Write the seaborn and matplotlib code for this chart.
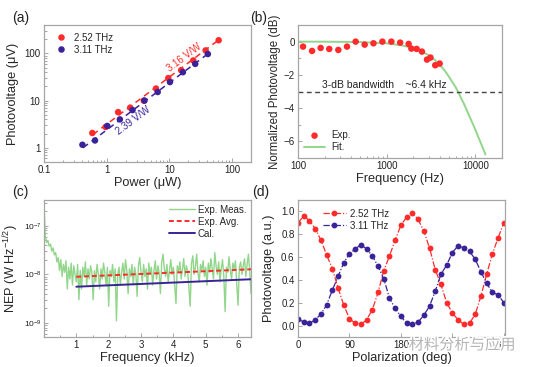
import numpy as np
import pandas as pd
import matplotlib
matplotlib.use("Agg")
import matplotlib.pyplot as plt
import matplotlib.ticker as mticker
import matplotlib.patheffects as pe
import seaborn as sns

# ---------------- data ----------------
# (a) photovoltage vs power
pa_red_x = [0.59, 0.96, 1.52, 2.37, 3.9, 6.1, 9.6, 15.4, 24, 37.8, 61]
pa_red_y = [2.06, 2.76, 5.7, 7.1, 10, 18, 30, 44, 71, 116, 190]
pa_blue_x = [0.41, 0.65, 1.02, 1.62, 2.58, 4.0, 6.5, 10.2, 16.4, 25.8, 41]
pa_blue_y = [1.16, 1.43, 2.9, 4.0, 6.3, 10, 15.2, 24.7, 40, 60, 97]
fit_red_slope = 3.16
fit_blue_slope = 2.39
fit_red_x = [0.6, 60]
fit_blue_x = [0.42, 42]

# (b) frequency response
pb_f = [114, 144, 180, 225, 285, 357, 447, 565, 710, 895, 1130, 1420, 1770,
        1900, 2180, 2500, 2850, 3120, 3530, 3960]
pb_db = [-0.3, -0.56, -0.38, -0.44, -0.5, -0.3, 0.0, -0.18, -0.1, 0.0, 0.0,
         -0.06, -0.14, -0.42, -0.44, -0.6, -1.08, -0.96, -1.42, -1.32]
fit_f = [100, 200, 500, 1000, 1500, 2000, 2500, 3000, 3500, 4000, 4500, 5000,
         5500, 6000, 6500, 7000, 7500, 8000, 9000, 10000, 11000, 12000, 13000]
fit_db = [-0.001, -0.004, -0.026, -0.10, -0.23, -0.39, -0.59, -0.83, -1.10,
          -1.41, -1.73, -2.08, -2.43, -2.74, -3.10, -3.46, -3.78, -4.12,
          -4.74, -5.29, -5.84, -6.32, -6.79]

# (c) NEP (units of 1e-9 W Hz^-1/2), x step 0.04 kHz from 0 to 6.4
nep_meas = [300, 60, 45, 50, 38, 42, 30, 35, 25, 28, 18, 22, 12, 20, 9, 16, 11,
            19, 5, 14, 8, 17, 6, 15, 10, 7, 16, 3, 12, 5, 14, 9, 18, 6, 13, 8,
            15, 11, 3, 12, 7, 16, 10, 5, 13, 8, 17, 11, 6, 14, 2.2, 12, 9, 16,
            7, 13, 1.1, 10, 14, 6, 11, 17, 8, 20, 12, 4, 13, 9, 16, 6, 14, 10,
            3.5, 15, 22, 11, 7, 16, 9, 13, 5, 17, 10, 14, 6, 12, 19, 8, 15, 11,
            4, 18, 26, 13, 9, 16, 7, 12, 20, 10, 14, 6, 2.5, 15, 11, 18, 8, 13,
            21, 9, 15, 12, 5, 2.2, 17, 24, 10, 14, 26, 11, 7, 16, 12, 19, 9, 14,
            6, 17, 11, 21, 13, 8, 28, 15, 10, 18, 7, 13, 20, 9, 1.7, 14, 11, 23,
            12, 8, 17, 13, 19, 6, 2.3, 14, 18, 10, 15, 21, 9, 16, 26, 12, 4]
nep_x_step = 0.04
avg_x = [1.0, 6.4]
avg_y = [8.9, 12.7]
cal_x = [1.0, 6.4]
cal_y = [5.55, 7.9]

# (d) polarization dependence
pol_deg = list(range(0, 361, 10))
pol_red = [0.90, 0.96, 0.92, 0.85, 0.75, 0.62, 0.50, 0.33, 0.18, 0.06, 0.02,
           0.01, 0.05, 0.14, 0.29, 0.48, 0.61, 0.75, 0.88, 0.95, 0.99, 0.93,
           0.83, 0.68, 0.49, 0.36, 0.20, 0.11, 0.05, 0.01, 0.02, 0.10, 0.26,
           0.45, 0.63, 0.77, 0.90]
pol_blue = [0.06, 0.03, 0.02, 0.05, 0.10, 0.18, 0.31, 0.43, 0.55, 0.63, 0.67,
            0.71, 0.67, 0.61, 0.52, 0.41, 0.24, 0.15, 0.08, 0.02, 0.01, 0.03,
            0.09, 0.17, 0.30, 0.45, 0.53, 0.64, 0.70, 0.68, 0.65, 0.58, 0.47,
            0.37, 0.29, 0.27, 0.20]

# ---------------- style ----------------
sns.set_style("ticks")
plt.rcParams['font.family'] = ['Liberation Sans', 'DejaVu Sans']
plt.rcParams['mathtext.fontset'] = 'custom'
plt.rcParams['mathtext.rm'] = 'Liberation Sans'
plt.rcParams['mathtext.it'] = 'Liberation Sans:italic'
plt.rcParams['mathtext.default'] = 'regular'
RED = "#ff2b2b"
BLUE = "#3a2299"
GREEN = "#92d68c"
FRAME = "#a6a6a6"
TXT = "#222222"
LAB = 9.2
TICK = 7.0

W, H = 535, 367
fig = plt.figure(figsize=(W / 100, H / 100), dpi=100)


def add_ax(l, r, t, b):
    return fig.add_axes([l / W, (H - b) / H, (r - l) / W, (b - t) / H])


def style(ax):
    for s in ax.spines.values():
        s.set_color(FRAME)
        s.set_linewidth(0.9)
    ax.tick_params(which='both', direction='in', color=FRAME, labelsize=TICK,
                   labelcolor=TXT, width=0.7, pad=2.5)
    ax.tick_params(which='major', length=3)
    ax.tick_params(which='minor', length=1.8)


axA = add_ax(44, 251, 25, 162)
axB = add_ax(298, 502, 25, 158)
axC = add_ax(44, 251, 200, 337)
axD = add_ax(298, 505, 200, 337)

# ---------------- (a) ----------------
dfa = pd.DataFrame({
    "x": pa_red_x + pa_blue_x,
    "y": pa_red_y + pa_blue_y,
    "s": ["2.52 THz"] * len(pa_red_x) + ["3.11 THz"] * len(pa_blue_x)})
axA.set_xscale('log')
axA.set_yscale('log')
sns.scatterplot(data=dfa, x="x", y="y", hue="s", palette=[RED, BLUE], s=22,
                edgecolor='none', ax=axA, zorder=3)
fr_x = np.array(fit_red_x)
fb_x = np.array(fit_blue_x)
axA.plot(fr_x, fit_red_slope * fr_x, ls=(0, (4, 3)), color=RED, lw=1.1)
axA.plot(fb_x, fit_blue_slope * fb_x, ls=(0, (4, 3)), color=BLUE, lw=1.1)
axA.set_xlim(0.1, 200)
axA.set_ylim(0.5, 400)
axA.xaxis.set_major_formatter(mticker.FuncFormatter(lambda v, p: f"{v:g}"))
axA.yaxis.set_major_formatter(mticker.FuncFormatter(lambda v, p: f"{v:g}"))
axA.text(17, 80, "3.16 V/W", color=RED, fontsize=TICK, rotation=37,
         ha='center', va='center')
axA.text(2.6, 3.7, "2.39 V/W", color=BLUE, fontsize=TICK, rotation=37,
         ha='center', va='center')
axA.set_xlabel("Power (\u03bcW)", fontsize=LAB, labelpad=1)
axA.set_ylabel("Photovoltage (\u03bcV)", fontsize=LAB, labelpad=4)
axA.legend(loc='upper left', frameon=False, fontsize=TICK, handletextpad=0.3,
           borderaxespad=0.4, labelspacing=0.2, markerscale=1.0)
style(axA)

# ---------------- (b) ----------------
axB.set_xscale('log')
sns.scatterplot(x=pb_f, y=pb_db, color=RED, s=22, edgecolor='none', ax=axB,
                zorder=3, label="Exp.")
sns.lineplot(x=fit_f, y=fit_db, color=GREEN, lw=1.4, ax=axB, label="Fit.",
             zorder=2)
axB.axhline(-3, color="#444444", ls=(0, (3.5, 2.5)), lw=1.0)
axB.text(187, -2.62, "3-dB bandwidth    ~6.4 kHz", fontsize=7.5, color=TXT,
         ha='left', va='center')
axB.set_xlim(100, 20000)
axB.set_ylim(-7, 1)
axB.set_yticks([0, -2, -4, -6])
axB.yaxis.set_minor_locator(mticker.MultipleLocator(1))
axB.xaxis.set_major_formatter(mticker.FuncFormatter(lambda v, p: f"{v:g}"))
axB.set_xlabel("Frequency (Hz)", fontsize=LAB, labelpad=1)
axB.set_ylabel("Normalized Photovoltage (dB)", fontsize=8.3, labelpad=1.5)
axB.legend(loc='lower left', frameon=False, fontsize=TICK, handletextpad=0.6,
           borderaxespad=0.2, labelspacing=0.2, handlelength=2.2)
style(axB)

# ---------------- (c) ----------------
nep_x = np.arange(len(nep_meas)) * nep_x_step
axC.set_yscale('log')
sns.lineplot(x=nep_x, y=np.array(nep_meas) * 1e-9, color=GREEN, lw=1.0,
             ax=axC, label="Exp. Meas.")
sns.lineplot(x=avg_x, y=np.array(avg_y) * 1e-9, color=RED, lw=1.4,
             ls=(0, (2.5, 1.5)), ax=axC, label="Exp. Avg.")
sns.lineplot(x=cal_x, y=np.array(cal_y) * 1e-9, color=BLUE, lw=1.4,
             ax=axC, label="Cal.")
axC.set_xlim(0, 6.4)
axC.set_ylim(5.1e-10, 3.4e-7)
axC.set_xticks([1, 2, 3, 4, 5, 6])
axC.xaxis.set_minor_locator(mticker.MultipleLocator(0.5))
axC.set_xlabel("Frequency (kHz)", fontsize=LAB, labelpad=1)
axC.set_ylabel("NEP (W Hz$^{-1/2}$)", fontsize=LAB, labelpad=2)
axC.legend(loc='upper right', frameon=False, fontsize=TICK, handletextpad=0.3,
           borderaxespad=0.1, labelspacing=0.2, handlelength=2.6)
style(axC)
axC.tick_params(axis='y', which='major', labelsize=6.0, pad=1.5)

# ---------------- (d) ----------------
dfd = pd.DataFrame({
    "deg": pol_deg + pol_deg,
    "v": pol_red + pol_blue,
    "s": ["2.52 THz"] * len(pol_deg) + ["3.11 THz"] * len(pol_deg)})
sns.lineplot(data=dfd, x="deg", y="v", hue="s", palette=[RED, BLUE],
             marker='o', markersize=4.2, markeredgewidth=0, lw=0.9,
             ax=axD)
for ln in axD.lines:
    ln.set_linestyle((0, (5, 1.5, 1, 1.5)))
axD.set_xlim(0, 362)
axD.set_ylim(-0.1, 1.1)
axD.set_xticks([0, 90, 180, 270, 360])
axD.set_yticks([0.0, 0.2, 0.4, 0.6, 0.8, 1.0])
axD.yaxis.set_major_formatter(mticker.FormatStrFormatter('%.1f'))
axD.set_xlabel("Polarization (deg)", fontsize=LAB, labelpad=1)
axD.set_ylabel("Photovoltage (a.u.)", fontsize=LAB, labelpad=4)
leg = axD.legend(loc='upper left', bbox_to_anchor=(0.08, 1.0), frameon=False,
                 fontsize=TICK, handletextpad=0.4, labelspacing=0.2,
                 handlelength=2.3, title=None)
for h in leg.legend_handles:
    h.set_linestyle((0, (5, 1.5, 1, 1.5)))
style(axD)

# ---------------- panel labels ----------------
for lbl, x, y in [("(a)", 12, 18), ("(b)", 250, 18), ("(c)", 12, 192),
                  ("(d)", 252, 192)]:
    fig.text(x / W, 1 - y / H, lbl, fontsize=10, ha='left', va='center',
             color=TXT)

# watermark
fig.text(462 / W, 1 - 345 / H, "材料分析与应用", fontsize=11,
         family=['Noto Sans CJK SC', 'DejaVu Sans'], color="#b5b5b5",
         ha='center', va='center', zorder=20,
         path_effects=[pe.withStroke(linewidth=2.5, foreground='white')])

fig.savefig("out.png", dpi=100)
